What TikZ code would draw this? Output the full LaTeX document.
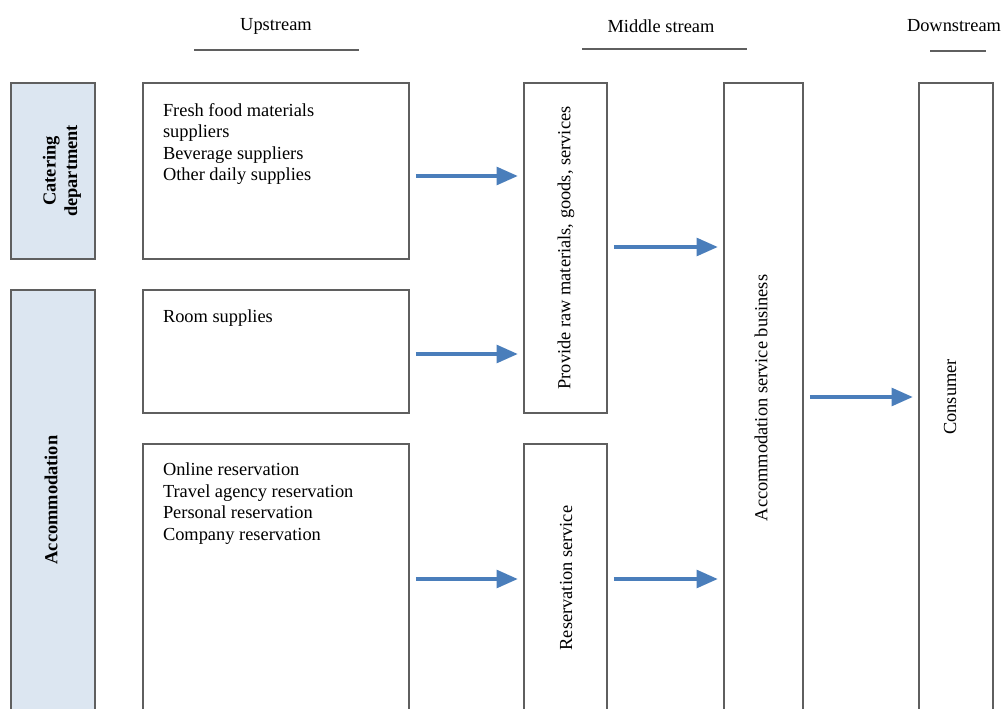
\documentclass[tikz,border=0pt]{standalone}
\usepackage{fontspec}
\setmainfont{Liberation Serif}
\usetikzlibrary{arrows.meta,fit}
\definecolor{boxline}{RGB}{95,95,95}
\definecolor{sidefill}{RGB}{220,230,241}
\definecolor{flowblue}{RGB}{74,126,187}
\tikzset{
  px/.style={x=0.75pt,y=-0.75pt},
  box/.style={draw=boxline,line width=1.6pt,inner sep=0pt,outer sep=0pt,fill=white},
  sidebox/.style={box,fill=sidefill},
  txt/.style={inner sep=0pt,outer sep=0pt,font=\fontsize{13.8}{16.1}\selectfont},
  blocktxt/.style={txt,align=left,anchor=north west},
  vtxt/.style={txt,rotate=90,align=center},
  head/.style={txt},
  headline/.style={draw=boxline,line width=1.5pt},
  flow/.style={draw=flowblue,line width=3.3pt,-{Triangle[length=16pt,width=13pt]},shorten <=5.2pt,shorten >=4.5pt}
}
\begin{document}
\begin{tikzpicture}[px]
\useasboundingbox (0,0) rectangle (1002,709);
\clip (0,0) rectangle (1002,709);
% headers
\node[head] (hup) at (276,26) {Upstream};
\node[head] (hmid) at (661,26) {Middle stream};
\node[head] (hdown) at (954,26) {Downstream};
\coordinate (hu1) at (194,50); \coordinate (hu2) at (359,50);
\coordinate (hm1) at (582,49); \coordinate (hm2) at (747,49);
\coordinate (hd1) at (930,51); \coordinate (hd2) at (986,51);
\draw[headline] (hu1) -- (hu2);
\draw[headline] (hm1) -- (hm2);
\draw[headline] (hd1) -- (hd2);
% left category boxes
\node[sidebox,fit={(11,83)(95,259)}] (cat) {};
\node[sidebox,fit={(11,290)(95,740)}] (acc) {};
\node[vtxt,font=\fontsize{13.8}{16.1}\selectfont\bfseries] (cattxt) at (62,171) {Catering\\department};
\node[vtxt,font=\fontsize{13.8}{16.1}\selectfont\bfseries] (acctxt) at (51,500) {Accommodation};
% upstream boxes
\node[box,fit={(143,83)(409,259)}] (up1) {};
\node[box,fit={(143,290)(409,413)}] (up2) {};
\node[box,fit={(143,444)(409,740)}] (up3) {};
\node[blocktxt] (up1txt) at (163,103.5) {Fresh food materials\\suppliers\\Beverage suppliers\\Other daily supplies};
\node[blocktxt] (up2txt) at (163,310) {Room supplies};
\node[blocktxt] (up3txt) at (163,463) {Online reservation\\Travel agency reservation\\Personal reservation\\Company reservation};
% middle stream boxes
\node[box,fit={(524,83)(607,413)}] (mid1) {};
\node[box,fit={(524,444)(607,740)}] (mid2) {};
\node[box,fit={(724,83)(803,740)}] (biz) {};
\node[vtxt] (mid1txt) at (566,248) {Provide raw materials, goods, services};
\node[vtxt] (mid2txt) at (566,578) {Reservation service};
\node[vtxt] (biztxt) at (761,398) {Accommodation service business};
% downstream
\node[box,fit={(919,83)(993,740)}] (cons) {};
\node[vtxt] (constxt) at (950,397) {Consumer};
% arrows
\coordinate (r1) at (0,176);
\coordinate (r2) at (0,247);
\coordinate (r3) at (0,354);
\coordinate (r4) at (0,579);
\coordinate (r5) at (0,397);
\draw[flow] (up1.east |- r1) -- (mid1.west |- r1);
\draw[flow] (mid1.east |- r2) -- (biz.west |- r2);
\draw[flow] (up2.east |- r3) -- (mid1.west |- r3);
\draw[flow] (up3.east |- r4) -- (mid2.west |- r4);
\draw[flow] (mid2.east |- r4) -- (biz.west |- r4);
\draw[flow] (biz.east |- r5) -- (cons.west |- r5);
\end{tikzpicture}
\end{document}
